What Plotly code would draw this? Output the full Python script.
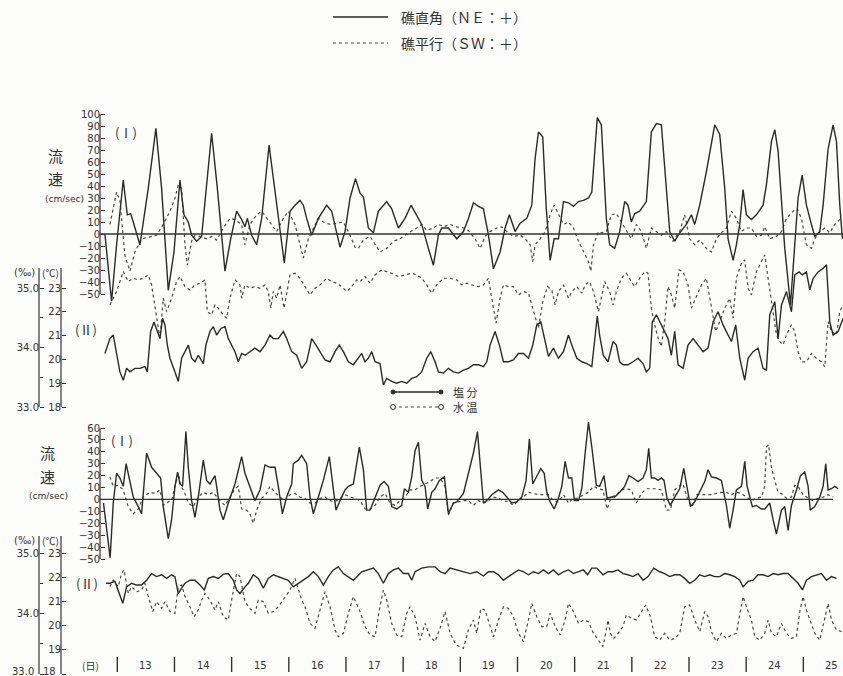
import plotly.graph_objects as go

# ------------------------------------------------------------------
# Time is counted in hours from 00:00 on the 13th.
# Current speeds in cm/sec, salinity in permil, water temperature in degC.
# ------------------------------------------------------------------

# upper station, (I) current perpendicular to the reef (NE:+)
up_perp_h = [-5.2, -2.4, -0.3, 2.5, 4.2, 5.6, 6.7, 9.5, 13.0, 16.2,
             18.6, 21.4, 23.8, 26.3, 28.0, 29.8, 31.2, 33.3, 35.4, 37.5,
             39.6, 42.0, 45.2, 47.6, 50.1, 52.2, 53.6, 54.6, 56.4, 58.5,
             60.6, 63.7, 66.2, 70.1, 72.5, 74.6, 76.7, 78.1, 79.5, 81.6,
             84.4, 87.9, 90.0, 93.5, 95.6, 97.7, 100.0, 101.9, 103.3, 105.4,
             107.5, 109.6, 113.1, 115.2, 118.0, 120.8, 123.3, 125.7, 127.8, 130.6,
             132.7, 134.8, 136.2, 139.0, 140.4, 142.5, 145.3, 147.4, 149.5, 151.6,
             153.7, 155.8, 157.9, 160.7, 162.8, 164.6, 167.0, 169.1, 171.9, 174.0,
             175.4, 176.8, 178.6, 180.0, 181.7, 183.4, 185.2, 187.3, 189.4, 191.5,
             193.6, 195.7, 197.8, 199.2, 201.5, 203.2, 205.3, 206.7, 208.8, 210.9,
             213.0, 214.4, 215.8, 217.2, 219.3, 222.1, 224.2, 226.3, 228.4, 229.8,
             231.9, 234.0, 236.1, 238.9, 241.0, 242.4, 244.5, 247.3, 250.8, 252.9,
             255.0, 256.4, 258.5, 259.9, 261.3, 262.7, 264.1, 266.2, 268.3, 271.1,
             272.5, 274.6, 276.0, 277.4, 278.8, 280.2, 282.6, 284.4, 285.8, 287.5,
             289.3, 291.4, 292.8, 294.9, 296.3, 298.4, 300.5, 301.9, 303.3, 304.4]
up_perp_v = [0, -56, -9, 45, 16, 17, 10, -9, 38, 88,
             38, -47, -15, 45, 16, 10, -1, -6, -2, 38,
             84, 38, -31, -4, 19, 12, 6, 13, -1, -9,
             13, 74, 35, -24, 19, 24, 28, 24, 13, -1,
             13, 24, 19, -11, 2, 30, 46, 34, 31, 5,
             1, 19, 27, 21, 5, 13, 24, 16, 8, -12,
             -26, -1, 5, 5, 1, -4, 2, 13, 26, 23,
             21, -1, -29, -15, 5, 16, 2, 9, 13, 24,
             63, 85, 81, 24, -22, -4, -4, 27, 26, 23,
             27, 28, 30, 35, 97, 91, 13, -9, -12, 2,
             27, 24, 10, 17, 19, 27, 85, 92, 91, 52,
             2, -6, 1, 8, 16, 8, 24, 52, 91, 83,
             38, -4, -22, -9, 8, 37, 16, 12, 16, 24,
             41, 77, 87, 69, 24, -12, -59, -9, 30, 49,
             24, 8, -2, 2, 24, 71, 91, 77, 24, -4]

# upper station, (I) current parallel to the reef (SW:+)
up_para_h = [-3.1, -0.3, 1.1, 3.2, 5.3, 7.4, 10.2, 13.7, 16.5, 19.3,
             22.1, 24.2, 25.6, 27.0, 28.4, 29.4, 31.2, 32.6, 34.7, 37.5,
             39.6, 41.7, 44.5, 47.3, 49.4, 52.2, 53.6, 55.7, 58.5, 60.6,
             62.7, 64.8, 66.9, 69.7, 71.8, 74.6, 76.7, 78.1, 80.2, 82.3,
             84.4, 86.5, 89.3, 92.1, 94.9, 97.7, 99.8, 101.2, 103.3, 106.1,
             110.3, 113.1, 115.9, 118.7, 122.2, 125.7, 127.8, 129.9, 132.7, 134.8,
             136.9, 139.7, 142.5, 145.3, 147.4, 150.2, 152.3, 154.4, 156.5, 159.3,
             161.4, 163.5, 166.3, 169.1, 171.2, 173.3, 174.4, 175.4, 177.5, 179.6,
             181.7, 183.4, 185.2, 187.3, 189.4, 191.5, 193.6, 195.7, 197.8, 198.8,
             199.9, 202.0, 203.2, 205.3, 207.4, 209.5, 211.6, 213.7, 215.8, 217.9,
             220.0, 222.1, 224.2, 226.3, 228.4, 230.5, 233.3, 236.1, 238.2, 240.3,
             242.4, 244.5, 247.3, 249.4, 251.5, 253.6, 255.7, 257.8, 259.9, 262.0,
             264.1, 266.2, 268.3, 270.4, 271.8, 273.9, 276.7, 278.8, 280.9, 283.7,
             285.4, 287.2, 289.3, 291.4, 292.8, 294.9, 297.0, 299.1, 301.2, 303.3,
             304.7]
up_para_v = [8, 35, 28, -18, -31, -15, -4, -2, -1, 8,
             19, 30, 41, 38, -9, -26, -6, -1, -2, -4,
             -2, -5, 5, 13, 12, 8, -9, 8, 16, 19,
             13, 8, 2, 13, 19, 8, -9, -20, -4, 5,
             13, 10, 8, 9, 10, -1, -11, -12, -5, -2,
             -15, -12, -6, -4, 1, 5, 8, 3, 5, 8,
             6, 8, 6, 5, 3, -4, -12, -2, 2, 5,
             6, 2, -2, -1, -4, -9, -23, -9, -4, 2,
             16, 24, 16, 8, 10, 5, -6, -15, -23, -31,
             -9, 2, 1, 2, 16, 17, 10, 2, -4, 8,
             2, -12, 5, 2, -1, 2, -6, 2, 16, -4,
             -9, -5, -12, -15, -4, 1, 5, 19, 13, 2,
             5, 5, -2, -1, 6, -4, -2, 2, 13, 19,
             21, 13, -9, -12, -4, 2, 5, 1, 8, 12,
             12]

# upper station, (II) water temperature
up_temp_h = [-3.1, -0.3, 2.5, 4.6, 6.7, 8.8, 10.9, 13.0, 14.4, 17.9,
             19.3, 20.7, 22.8, 24.9, 26.3, 28.4, 30.5, 32.6, 34.7, 36.8,
             37.8, 39.6, 41.0, 42.4, 44.5, 45.9, 47.3, 49.4, 51.5, 52.2,
             53.6, 55.7, 57.8, 59.9, 62.0, 63.4, 64.4, 65.5, 66.9, 68.3,
             70.0, 71.1, 72.5, 74.6, 76.7, 78.8, 80.9, 83.0, 85.1, 87.9,
             90.0, 92.1, 94.2, 96.3, 98.4, 100.5,
             101.9, 104.0, 106.1, 108.2, 111.0, 113.1, 115.2, 118.0, 120.8, 123.6,
             125.7, 127.8, 129.9, 132.0, 134.1, 136.9, 139.7, 142.5, 144.6, 146.7,
             148.8, 151.6, 153.7, 155.8, 157.2, 159.0, 160.7, 162.1, 164.2, 166.3,
             168.4, 170.5, 172.6, 174.7, 176.8, 178.6, 180.6, 182.4, 183.8, 185.2,
             187.3, 189.4, 190.8, 192.9, 195.0, 196.4, 198.2, 199.9, 202.0,
             204.6, 206.7, 208.1, 209.5, 211.6, 213.7, 215.8, 217.2, 219.3, 221.4,
             222.8, 224.2, 225.6, 227.0, 228.4, 229.8, 231.2, 232.6, 234.0, 235.8,
             237.5, 239.6, 241.0, 243.1, 245.2, 247.3, 249.4, 251.2, 252.9, 255.0,
             257.1, 258.5, 259.9, 262.0, 263.4, 264.8, 266.2, 268.3, 270.4, 271.8,
             273.2, 275.3, 276.7, 278.1, 279.5, 280.9, 283.0, 284.4, 285.8, 287.2,
             289.3, 291.4, 293.5, 295.6, 297.0, 298.4, 299.8, 301.9, 303.3, 304.7]
up_temp_v = [22.29, 22.85, 23.69, 23.27, 23.41, 23.34, 23.41, 23.55, 23.13, 20.89,
             22.57, 22.01, 22.57, 23.27, 23.48, 23.06, 22.92, 23.13, 23.20, 23.34,
             22.01, 21.87, 22.29, 22.15, 21.87, 21.73, 22.57, 23.34, 23.13, 22.57,
             23.13, 22.99, 23.06, 22.99, 23.13, 22.85, 22.15, 22.85, 22.57, 23.13,
             22.15, 22.85, 23.55, 23.62, 23.41, 23.06, 22.71, 22.99, 23.13, 23.41,
             23.27, 23.20, 23.06, 22.85, 23.06, 23.34,
             23.27, 23.48, 23.20, 23.55, 23.76, 23.69, 23.62, 23.48, 23.55, 23.62,
             23.55, 23.41, 23.13, 22.78, 23.13, 23.41, 23.41, 23.34, 23.13, 23.20,
             23.13, 23.06, 23.13, 23.41, 22.57, 21.52, 22.57, 23.13, 23.06, 23.06,
             22.71, 22.85, 22.78, 22.01, 21.31, 22.43, 23.06, 22.92, 22.29, 22.85,
             23.13, 22.57, 22.85, 23.06, 22.78, 23.13, 23.27, 22.85, 22.01,
             23.27, 22.85, 22.29, 22.85, 23.41, 23.62, 23.27, 23.06, 23.41, 23.69,
             23.62, 22.15, 21.45, 20.89, 20.54, 21.59, 23.06, 22.71, 22.15, 23.76,
             23.69, 23.13, 22.15, 22.64, 23.13, 23.41, 22.29, 21.17, 21.59, 22.15,
             22.57, 21.73, 23.41, 24.04, 24.18, 22.99, 22.71, 23.69, 24.11, 24.39,
             23.41, 22.01, 21.03, 20.75, 20.61, 21.03, 21.45, 21.17, 20.32, 19.90,
             19.90, 20.25, 20.04, 19.90, 19.69, 21.59, 21.17, 21.03, 22.01, 22.29]

# upper station, (II) salinity
up_sal_h = [-5.2, -3.1, -1.7, -0.3, 1.1, 2.5, 3.9, 5.3, 7.4, 9.5,
            11.6, 12.6, 14.0, 15.4, 16.8, 17.9, 19.0, 20.0, 21.0, 22.1,
            24.2, 25.6, 27.0, 28.4, 29.8, 31.2, 32.6, 34.0, 36.1, 37.2,
            38.9, 40.3, 41.7, 43.5, 45.2, 46.6, 48.0, 49.4, 50.8, 52.2,
            53.6, 55.7, 57.8, 59.9, 62.0, 64.1, 65.5, 67.6, 69.7, 71.1,
            73.2, 75.3, 77.4, 79.5, 81.6, 83.4, 85.1, 87.2, 89.3, 91.4,
            93.2, 94.9, 97.0, 99.1,
            102.6, 104.0, 105.4, 106.8, 108.2, 110.3, 111.7, 113.1, 115.2, 117.3,
            119.4, 121.5, 123.6, 125.7, 127.8, 129.9, 131.6, 133.4, 134.8, 136.9,
            139.0, 141.1, 143.2, 145.3, 147.4, 149.5, 151.6, 153.7, 155.1, 156.5,
            158.6, 160.4, 162.1, 164.2, 166.3, 168.4, 170.5, 172.6, 174.4, 176.1,
            177.8, 179.6, 181.0, 183.1, 185.2, 187.3, 189.4, 190.8, 192.9, 195.0,
            197.1, 199.2, 200.5, 201.5, 202.5, 204.0,
            206.0, 208.1, 209.5, 210.9, 212.3, 214.4, 216.5, 218.6, 220.7, 222.1,
            223.5, 224.6, 226.3, 228.4, 229.8, 231.2, 232.6, 234.0, 235.4, 237.5,
            239.6, 241.7, 243.8, 245.9, 248.0, 250.1, 252.2, 254.3, 256.4, 257.8,
            259.6, 261.3, 263.4, 264.8, 266.9, 269.0, 271.1, 272.5, 273.9, 276.0,
            277.4, 278.8, 280.9, 283.0, 284.4, 286.2, 287.6, 289.3, 290.7, 292.1,
            294.2, 296.3, 297.7, 299.1, 300.5, 302.6, 304.7]
up_sal_v = [33.90, 34.15, 34.21, 33.87, 33.59, 33.45, 33.65, 33.59, 33.65, 33.65,
            33.68, 33.59, 34.27, 34.43, 34.27, 34.15, 34.49, 34.38, 34.04, 33.82,
            33.59, 33.43, 33.82, 33.93, 34.04, 33.82, 33.76, 33.87, 33.73, 34.04,
            34.27, 34.35, 34.21, 34.32, 34.35, 34.15, 34.04, 33.93, 33.76, 33.90,
            33.87, 33.93, 33.99, 33.93, 34.04, 34.21, 34.15, 34.15, 34.27, 34.15,
            33.93, 33.87, 33.65, 33.76, 34.15, 34.04, 33.93, 33.79, 33.76, 33.93,
            34.04, 33.93, 33.76, 33.71,
            33.90, 33.76, 33.82, 33.93, 33.76, 33.73, 33.37, 33.48, 33.43, 33.40,
            33.43, 33.40, 33.48, 33.51, 33.59, 33.82, 33.93, 33.76, 33.59, 33.57,
            33.65, 33.59, 33.57, 33.62, 33.65, 33.71, 33.71, 33.68, 33.76, 34.04,
            34.27, 34.04, 33.76, 33.76, 33.79, 33.90, 33.90, 33.82, 34.04, 34.38,
            34.43, 34.10, 33.85, 33.99, 33.82, 33.93, 34.21, 34.04, 33.82, 33.76,
            33.73, 33.68, 34.20, 34.53, 34.20, 33.87,
            33.76, 34.10, 34.04, 33.76, 33.71, 33.71, 33.76, 33.82, 33.73, 33.59,
            33.65, 34.43, 34.55, 34.38, 34.27, 34.15, 33.87, 34.27, 33.71, 33.65,
            34.04, 34.15, 34.04, 33.93, 33.99, 34.43, 34.60, 34.38, 34.21, 34.10,
            34.38, 33.82, 33.45, 33.82, 33.93, 33.99, 33.65, 33.62, 34.55, 34.77,
            34.15, 34.71, 34.94, 34.60, 35.22, 35.27, 35.22, 35.27, 34.97, 35.16,
            35.27, 35.33, 35.39, 34.43, 34.21, 34.27, 34.49]

# lower station, (I) current perpendicular to the reef
lo_perp_h = [-5.8, -3.0, -1.7, -0.3, 1.1, 2.5, 3.7, 4.6, 6.7, 8.8,
             10.2, 12.3, 14.4, 16.5, 18.2, 19.3, 21.4, 22.8, 24.2, 25.3,
             26.3, 27.4, 28.8, 29.8, 31.2, 32.6, 34.0, 36.1, 37.5, 38.9,
             41.0, 41.7, 43.1, 44.5, 46.6, 49.4, 52.2, 53.6, 55.7, 57.8,
             59.9, 62.0, 64.1, 66.2, 67.6, 69.3, 71.1, 73.2, 73.9, 76.0,
             77.4, 79.5, 80.9, 82.3, 84.4, 86.5, 89.0, 90.7, 91.8, 93.5,
             95.6, 97.0, 99.1, 100.5, 101.6,
             103.3, 104.7, 106.1, 108.2, 110.3, 112.0, 113.8, 115.2, 117.3, 119.4,
             120.5, 122.2, 123.6, 125.0, 126.4, 127.8, 129.2, 130.3, 132.0, 133.4,
             135.2, 137.3, 139.0, 141.1, 142.5, 145.3, 147.4, 149.5, 151.2, 152.3,
             153.7, 155.1, 157.2, 160.0, 161.8, 163.5, 165.6, 167.7, 169.8, 171.6,
             173.0, 174.4, 176.1, 177.8, 179.2, 180.3, 181.7, 183.4, 185.2, 186.6,
             188.0, 189.4, 190.8, 191.9, 193.6, 195.0, 196.4, 197.8, 199.2,
             201.1, 202.5, 204.3, 205.6, 207.4, 208.8, 210.9, 213.0, 214.8, 216.5,
             218.6, 220.7, 222.1, 223.1, 224.2, 225.6, 227.0, 228.4, 229.5, 230.8,
             232.2, 234.0, 236.1, 237.8, 239.2, 240.6, 242.4, 244.5, 246.6, 248.0,
             249.4, 251.5, 253.6, 255.7, 257.1, 258.5, 259.9, 262.0, 263.4, 264.4,
             266.6, 268.3, 270.4, 271.8, 273.9, 275.3, 276.7, 278.8, 280.2, 281.6,
             283.0, 285.1, 286.8, 288.6, 290.0, 290.9, 292.8, 294.9, 296.3, 297.4,
             298.4, 299.8, 301.2, 302.6]
lo_perp_v = [-3, -49, -3, 22, 18, 11, 30, 22, 2, -6,
             -12, 39, 27, 22, 18, -6, -33, -17, 11, 23,
             13, 11, 57, 27, -1, -15, 2, 33, 16, 13,
             20, 11, -9, -17, -3, 13, 36, 22, 11, -1,
             8, 29, 27, 27, 11, -12, 2, 13, 30, 33,
             37, 30, 2, -12, 2, 16, 36, 11, -9, -1,
             8, 11, 13, 30, 44,
             25, -9, -9, 2, 12, 15, 11, -6, -8, -5,
             9, 6, 19, 41, 48, 16, 11, -8, 6, 9,
             16, 19, -12, -3, -2, 5, 22, 39, 57, 30,
             -3, -1, 4, 8, 6, 2, -3, -2, 2, 16,
             51, 13, 19, 26, 22, 6, -2, -8, 1, 11,
             32, 18, 18, -1, -1, 9, 39, 65, 44,
             12, 11, 20, 1, 2, 2, 6, 11, 20, 18,
             15, 18, 25, 43, 18, 18, 16, 18, 16, 1,
             -5, 2, 9, 26, 11, -6, -2, 6, 15, 25,
             19, 18, 16, -5, -24, -9, 8, 11, 32, 11,
             -6, -5, -8, -8, -3, -17, -29, -9, -6, -26,
             -5, 8, 20, 23, 11, -9, -6, 2, 11, 30,
             8, 9, 11, 9]

# lower station, (I) current parallel to the reef
lo_para_h = [-3.1, -1.7, 0.4, 2.5, 4.6, 6.7, 8.8, 10.9, 13.7, 15.8,
             17.9, 19.3, 21.4, 22.8, 24.2, 25.6, 26.6, 28.4, 29.8, 31.9,
             34.0, 36.1, 38.2, 40.3, 43.1, 45.2, 47.3, 49.4, 50.8, 52.2,
             54.3, 55.7, 57.1, 58.5, 60.6, 62.7, 64.1, 66.2, 68.3, 70.4,
             72.5, 74.6, 76.7, 78.8, 80.9, 83.0, 85.1, 87.2, 89.3, 91.4,
             93.5, 95.6, 97.7, 99.8,
             101.9, 104.0, 106.1, 108.2, 110.3, 112.4, 114.5, 116.6, 118.7, 120.8,
             122.9, 125.0, 127.1, 129.2, 131.3, 133.4, 135.5, 137.6, 139.0, 141.1,
             143.2, 145.3, 147.4, 149.5, 151.6, 153.7, 155.8, 157.9, 160.0, 162.1,
             164.2, 166.3, 168.4, 170.5, 172.6, 174.7, 176.8, 178.9, 181.0, 183.1,
             185.2, 187.3, 189.4, 191.5, 193.6, 195.7, 197.8, 199.9, 202.0,
             203.9, 205.6, 207.4, 209.5, 211.6, 213.7, 215.8, 217.9, 220.0, 222.1,
             224.2, 226.3, 228.4, 230.5, 232.2, 234.0, 235.8, 237.5, 239.6, 241.4,
             243.1, 245.2, 247.3, 249.4, 251.5, 253.6, 255.7, 257.8, 259.9, 262.0,
             264.1, 266.2, 268.3, 270.4, 271.8, 272.5, 273.4, 274.6, 276.0, 277.4,
             278.8, 280.9, 283.0, 284.4, 285.8, 287.9, 290.0, 292.1, 294.2, 296.3,
             298.4, 300.5]
lo_para_v = [19, 11, 12, 8, -6, -12, -8, 2, 6, 5,
             8, -5, -2, -1, 11, 22, 12, 5, -3, -6,
             2, 6, 4, 6, -1, -5, 2, 9, 11, -8,
             -9, -12, -20, -9, 1, 5, 11, 6, 2, -1,
             4, 5, 2, 1, -3, -3, 1, 2, -1, -2,
             1, 4, 2, 1,
             -1, -8, -8, -5, 2, 5, -3, -5, -1, 2,
             8, 8, 11, 13, 15, 18, 18, 11, -13, -3,
             -2, -1, -1, -5, -1, -3, -1, 2, 1, -1,
             -2, -5, -1, 2, 6, 5, 4, 4, 4, -1,
             -2, 4, -3, 1, 1, 4, 6, 11, 9,
             8, -8, 2, 4, 8, 9, 8, -3, 5, 9,
             9, 9, 8, -9, -9, 8, 11, 13, -1, -6,
             4, 4, 4, 4, 5, 6, 6, 4, 6, 5,
             2, -1, 1, 2, 11, 44, 46, 27, 16, 6,
             5, 1, 2, 12, 11, 4, 1, -1, 1, 2,
             4, 2]

# lower station, (II) salinity
lo_sal_h = [-4.7, -3.1, -1.0, 0.4, 2.3, 3.9, 6.0, 8.1, 10.2, 12.3,
            14.4, 16.5, 18.6, 20.7, 22.8, 24.2, 25.6, 27.0, 28.4, 30.5,
            32.6, 34.7, 36.5, 38.2, 40.3, 42.4, 44.5, 46.6, 48.7, 50.1,
            51.5, 53.6, 55.0, 57.1, 59.2, 61.3, 63.4, 65.5, 67.6, 69.7,
            71.8, 73.9, 76.0, 78.1, 80.2, 82.3, 84.4, 86.5, 88.6, 90.7,
            92.8, 94.9, 97.0, 99.1,
            102.6, 105.4, 107.5, 109.6, 111.7, 113.8, 115.9, 118.0, 120.1, 122.2,
            123.6, 125.0, 127.8, 130.6, 133.4, 135.5, 137.6, 139.7, 142.5, 145.3,
            148.1, 150.9, 153.7, 155.8, 157.9, 160.0, 162.1, 164.2, 166.3, 168.4,
            170.5, 172.6, 174.7, 176.8, 178.9, 181.0, 183.1, 185.2, 187.3, 189.4,
            191.5, 193.6, 195.7, 197.4, 199.2, 201.3,
            203.9, 206.0, 208.1, 210.2, 212.3, 214.4, 216.5, 218.6, 220.7, 222.8,
            225.2, 227.7, 229.8, 231.9, 234.0, 236.1, 238.2, 240.3, 242.4, 244.5,
            246.6, 248.7, 250.8, 252.9, 255.0, 257.1, 259.2, 261.3, 262.7, 264.8,
            266.9, 269.0, 271.1, 273.2, 275.3, 277.4, 279.5, 281.6, 283.7, 285.8,
            287.6, 289.3, 291.4, 293.5, 295.6, 297.7, 299.8, 301.9]
lo_sal_v = [34.50, 34.50, 34.53, 34.39, 34.17, 34.44, 34.50, 34.47, 34.47, 34.55,
            34.66, 34.61, 34.64, 34.58, 34.64, 34.61, 34.33, 34.42, 34.50, 34.55,
            34.55, 34.47, 34.39, 34.58, 34.61, 34.58, 34.65, 34.66, 34.55, 34.39,
            34.33, 34.44, 34.50, 34.64, 34.58, 34.42, 34.58, 34.64, 34.61, 34.58,
            34.55, 34.44, 34.50, 34.55, 34.61, 34.69, 34.61, 34.47, 34.61, 34.72,
            34.77, 34.66, 34.61, 34.55,
            34.69, 34.72, 34.75, 34.66, 34.50, 34.66, 34.72, 34.75, 34.66, 34.66,
            34.55, 34.69, 34.75, 34.77, 34.77, 34.69, 34.66, 34.75, 34.72, 34.69,
            34.66, 34.69, 34.62, 34.69, 34.69, 34.64, 34.55, 34.61, 34.66, 34.72,
            34.69, 34.64, 34.69, 34.66, 34.72, 34.66, 34.72, 34.64, 34.69, 34.72,
            34.66, 34.69, 34.72, 34.64, 34.75, 34.75,
            34.64, 34.69, 34.69, 34.72, 34.66, 34.64, 34.61, 34.66, 34.55, 34.61,
            34.75, 34.69, 34.66, 34.61, 34.64, 34.64, 34.58, 34.50, 34.55, 34.64,
            34.61, 34.64, 34.61, 34.61, 34.66, 34.64, 34.61, 34.55, 34.44, 34.53,
            34.55, 34.64, 34.64, 34.61, 34.66, 34.64, 34.66, 34.66, 34.58, 34.50,
            34.39, 34.55, 34.61, 34.64, 34.66, 34.55, 34.61, 34.58]

# lower station, (II) water temperature
lo_temp_h = [-3.1, -1.7, 0.4, 1.8, 2.8, 4.6, 6.0, 8.1, 10.2, 11.6,
             13.0, 14.9, 16.5, 18.6, 20.0, 22.1, 24.2, 25.6, 27.0, 28.4,
             30.5, 32.2, 34.0, 35.4, 36.8, 38.9, 41.0, 42.4, 44.5, 46.6,
             48.0, 50.1, 51.5, 53.6, 55.7, 57.8, 59.2, 61.3, 63.4, 65.5,
             67.6, 69.7, 72.5, 74.6, 76.0, 77.4, 78.8, 80.9, 83.0, 85.1,
             87.2, 89.3, 91.4, 92.8, 94.9, 97.0, 99.1,
             101.9, 104.0, 106.1, 108.2, 110.0, 111.7, 113.1, 115.2, 117.3, 119.4,
             121.5, 122.9, 125.0, 127.1, 129.2, 131.3, 133.4, 135.5, 137.6, 139.7,
             142.2, 143.9, 145.3, 147.4, 149.5, 150.9, 152.6, 154.4, 156.2, 157.9,
             160.0, 162.1, 164.2, 166.3, 168.4, 170.5, 172.6, 174.0, 176.1, 178.2,
             180.3, 181.7, 183.8, 185.9, 188.0, 189.4, 191.5, 193.6, 195.7, 197.8,
             199.9, 202.0,
             203.9, 205.0, 206.0, 207.0, 208.4, 210.2, 212.3, 213.7, 215.8, 217.9,
             220.0, 221.8, 223.8, 225.6, 227.7, 229.8, 231.9, 234.0, 236.1, 238.2,
             240.3, 242.4, 244.5, 246.6, 248.0, 249.4, 251.5, 253.6, 255.7, 257.8,
             259.9, 261.3, 262.7, 264.1, 266.2, 267.6, 269.7, 271.8, 273.2, 274.6,
             276.7, 278.8, 280.9, 283.0, 285.1, 286.5, 287.9, 289.3, 290.7, 292.8,
             294.9, 297.0, 298.4, 299.8, 301.9, 304.0]
lo_temp_v = [21.61, 21.88, 21.61, 22.16, 22.30, 21.33, 21.61, 21.40, 21.47, 21.75,
             21.20, 20.58, 20.99, 20.71, 20.99, 20.58, 20.51, 21.61, 21.68, 21.20,
             20.78, 20.37, 20.64, 21.06, 21.33, 21.06, 20.64, 20.99, 20.37, 20.23,
             21.06, 22.16, 22.02, 20.99, 20.71, 20.51, 21.06, 20.99, 20.51, 20.58,
             20.78, 21.06, 21.47, 21.95, 21.47, 21.06, 20.78, 20.09, 19.89, 20.64,
             21.40, 20.78, 19.82, 19.54, 19.68, 20.51, 21.20,
             20.58, 19.96, 19.61, 19.54, 20.64, 21.47, 21.06, 20.09, 19.61, 19.54,
             20.51, 20.78, 20.37, 19.40, 20.09, 19.54, 19.34, 19.89, 20.58, 19.68,
             19.20, 19.13, 19.06, 19.82, 20.23, 19.68, 20.71, 20.64, 20.09, 19.54,
             20.23, 20.78, 20.71, 20.37, 19.68, 19.34, 20.23, 20.92, 20.37, 19.96,
             19.96, 20.51, 19.96, 19.61, 20.23, 20.92, 20.58, 20.09, 20.23, 20.16,
             19.68, 19.40,
             19.13, 19.68, 20.23, 19.68, 19.47, 19.68, 19.96, 20.44, 20.30, 20.23,
             20.58, 20.85, 20.37, 19.54, 19.40, 19.68, 19.40, 19.47, 19.68, 20.78,
             20.85, 20.23, 19.75, 20.58, 20.37, 19.75, 19.34, 19.68, 19.47, 19.61,
             19.68, 20.37, 21.20, 20.78, 20.23, 19.54, 19.40, 19.68, 20.23, 19.68,
             19.54, 20.09, 19.68, 19.47, 19.54, 20.58, 21.20, 20.64, 20.23, 19.68,
             19.40, 20.37, 20.92, 20.23, 19.82, 19.75]

# calendar days along the bottom
days = list(range(13, 26))

# axis tick values
cur_up_ticks = list(range(-50, 101, 10))
cur_lo_ticks = list(range(-50, 61, 10))
temp_ticks = [18, 19, 20, 21, 22, 23]
sal_ticks = [33.0, 34.0, 35.0]
sal_minor = [33.5, 34.5]

# ------------------------------------------------------------------
# page geometry
# ------------------------------------------------------------------
W, H = 843, 676
DAY0_PX, DAY_PX = 117.3, 57.17        # left edge of day 13 and width of one day
PLOT_LEFT = 100
X_CUR, X_TMP, X_SAL = 100, 61, 39     # vertical axis positions

def xp(px):
    return px / W

def yp(py):
    return 1 - py / H

def px_to_hour(px):
    return (px - DAY0_PX) / DAY_PX * 24

def full_range(cal):
    va, pa, vb, pb = cal
    k = (va - vb) / (pb - pa)
    return [va - (H - pa) * k, va + pa * k]

def val_at(cal, py):
    va, pa, vb, pb = cal
    k = (va - vb) / (pb - pa)
    return va + (pa - py) * k

# (value, pixel row) calibration pairs for each vertical scale
UP_CUR = (100, 114, -50, 294)
UP_TMP = (23, 288, 18, 407)
UP_SAL = (35, 288, 33, 407)
LO_CUR = (60, 428, -50, 559)
LO_TMP = (23, 553, 18, 674)
LO_SAL = (35, 553, 33, 674)

INK = "#2a2a2a"
INK_DOT = "#474747"
BG = "#fcfcfb"
NUM_FONT = dict(family="DejaVu Sans", size=10, color="#333333")
JP = "Noto Sans CJK JP"

fig = go.Figure()

def line(xs, ys, axis, dotted=False):
    fig.add_trace(go.Scatter(
        x=xs, y=ys, yaxis=axis, mode="lines",
        line=dict(color=INK_DOT if dotted else INK,
                  width=1.2 if dotted else 1.4,
                  dash="dot" if dotted else "solid"),
        hoverinfo="skip", showlegend=False))

line(up_para_h, up_para_v, "y", dotted=True)
line(up_perp_h, up_perp_v, "y")
line(up_temp_h, up_temp_v, "y2", dotted=True)
line(up_sal_h, up_sal_v, "y3")
line(lo_para_h, lo_para_v, "y4", dotted=True)
line(lo_perp_h, lo_perp_v, "y4")
line(lo_temp_h, lo_temp_v, "y5", dotted=True)
line(lo_sal_h, lo_sal_v, "y6")

def yax(cal, pos, tickvals, ticktext=None, minor=None, overlay=True):
    d = dict(domain=[0, 1], range=full_range(cal), anchor="free",
             position=xp(pos), side="left", showgrid=False, zeroline=False,
             showline=False, ticks="inside", ticklen=4, tickwidth=1,
             tickcolor="#333333", tickmode="array", tickvals=tickvals,
             tickfont=NUM_FONT, fixedrange=True)
    if ticktext is not None:
        d["ticktext"] = ticktext
    if minor is not None:
        d["minor"] = dict(tickvals=minor, ticks="inside", ticklen=3,
                          tickcolor="#333333")
    if overlay:
        d["overlaying"] = "y"
    return d

sal_text = [f"{v:.1f}" for v in sal_ticks]

fig.update_layout(
    width=W, height=H,
    margin=dict(l=0, r=0, t=0, b=0),
    paper_bgcolor=BG, plot_bgcolor="rgba(0,0,0,0)",
    showlegend=False,
    xaxis=dict(domain=[xp(PLOT_LEFT), 1],
               range=[px_to_hour(PLOT_LEFT), px_to_hour(W)],
               visible=False, fixedrange=True),
    yaxis=yax(UP_CUR, X_CUR, cur_up_ticks, overlay=False),
    yaxis2=yax(UP_TMP, X_TMP, temp_ticks),
    yaxis3=yax(UP_SAL, X_SAL, sal_ticks, sal_text, sal_minor),
    yaxis4=yax(LO_CUR, X_CUR, cur_lo_ticks),
    yaxis5=yax(LO_TMP, X_TMP, temp_ticks),
    yaxis6=yax(LO_SAL, X_SAL, sal_ticks, sal_text, sal_minor),
)

shapes = []

def spine(axis, cal, px, py_top, py_bot):
    shapes.append(dict(type="line", xref="paper", yref=axis,
                       x0=xp(px), x1=xp(px),
                       y0=val_at(cal, py_bot), y1=val_at(cal, py_top),
                       line=dict(color="#333333", width=1.2)))

# vertical scale lines
spine("y", UP_CUR, X_CUR, 114, 294)
spine("y2", UP_TMP, X_TMP, 268, 407)
spine("y3", UP_SAL, X_SAL, 268, 407)
spine("y4", LO_CUR, X_CUR, 428, 559)
spine("y5", LO_TMP, X_TMP, 536, 674)
spine("y6", LO_SAL, X_SAL, 536, 674)

# zero-velocity reference lines
shapes.append(dict(type="line", xref="paper", yref="y", x0=xp(X_CUR), x1=1,
                   y0=0, y1=0, line=dict(color="#333333", width=1.3)))
shapes.append(dict(type="line", xref="paper", yref="y4", x0=xp(X_CUR),
                   x1=xp(833), y0=0, y1=0,
                   line=dict(color="#333333", width=1.3)))

# day separators on the time scale
for i in range(len(days)):
    shapes.append(dict(type="line", xref="x", yref="paper",
                       x0=24 * i, x1=24 * i, y0=yp(672), y1=yp(657),
                       line=dict(color="#333333", width=1.4)))

# legend keys
shapes.append(dict(type="line", xref="paper", yref="paper",
                   x0=xp(333), x1=xp(388), y0=yp(17), y1=yp(17),
                   line=dict(color=INK, width=1.3)))
shapes.append(dict(type="line", xref="paper", yref="paper",
                   x0=xp(333), x1=xp(388), y0=yp(43), y1=yp(43),
                   line=dict(color=INK_DOT, width=1.2, dash="dot")))
shapes.append(dict(type="line", xref="paper", yref="paper",
                   x0=xp(393), x1=xp(441), y0=yp(392), y1=yp(392),
                   line=dict(color=INK, width=1.3)))
shapes.append(dict(type="line", xref="paper", yref="paper",
                   x0=xp(393), x1=xp(441), y0=yp(407), y1=yp(407),
                   line=dict(color=INK_DOT, width=1.1, dash="dot")))
for cx in (393, 441):
    shapes.append(dict(type="circle", xref="paper", yref="paper",
                       x0=xp(cx - 2), x1=xp(cx + 2), y0=yp(394), y1=yp(390),
                       fillcolor=INK, line=dict(color=INK, width=1)))
    shapes.append(dict(type="circle", xref="paper", yref="paper",
                       x0=xp(cx - 2.5), x1=xp(cx + 2.5), y0=yp(409.5),
                       y1=yp(404.5), fillcolor=BG,
                       line=dict(color=INK, width=1)))

fig.update_layout(shapes=shapes)

annotations = []

def text(px, py, s, size=11, family="DejaVu Sans", anchor="center"):
    annotations.append(dict(xref="paper", yref="paper", x=xp(px), y=yp(py),
                            text=s, showarrow=False, xanchor=anchor,
                            yanchor="middle",
                            font=dict(family=family, size=size,
                                      color="#333333")))

# legend captions
text(399, 17, "礁直角（ＮＥ：＋）", size=14, family=JP, anchor="left")
text(399, 43, "礁平行（ＳＷ：＋）", size=14, family=JP, anchor="left")
text(451, 392, "塩 分", size=11, family=JP, anchor="left")
text(451, 407, "水 温", size=11, family=JP, anchor="left")

# panel labels
text(126, 133, "(Ⅰ)", size=13, family=JP)
text(86, 329, "(Ⅱ)", size=13, family=JP)
text(122, 440, "(Ⅰ)", size=13, family=JP)
text(87, 583, "(Ⅱ)", size=13, family=JP)

# vertical scale titles
text(56, 155, "流", size=15, family=JP)
text(56, 179, "速", size=15, family=JP)
text(64, 199, "(cm/sec)", size=9)
text(47, 452, "流", size=15, family=JP)
text(47, 476, "速", size=15, family=JP)
text(48, 496, "(cm/sec)", size=9)
for top in (272, 540):
    text(24, top, "(‰)", size=10)
    text(50, top, "(℃)", size=10, family=JP)

# lowest scale labels of the lower station sit on the page edge
annotations.append(dict(xref="paper", yref="paper", x=xp(X_SAL - 3), y=0,
                        text=sal_text[0], showarrow=False, xanchor="right",
                        yanchor="bottom", yshift=-3, font=NUM_FONT))
annotations.append(dict(xref="paper", yref="paper", x=xp(X_TMP - 3), y=0,
                        text=str(temp_ticks[0]), showarrow=False,
                        xanchor="right", yanchor="bottom", yshift=-3,
                        font=NUM_FONT))

# day numbers
text(90, 665, "(日)", size=10, family=JP)
for i, d in enumerate(days):
    annotations.append(dict(xref="x", yref="paper", x=24 * i + 12, y=yp(665),
                            text=str(d), showarrow=False, xanchor="center",
                            yanchor="middle", font=NUM_FONT))

fig.update_layout(annotations=annotations)

fig.write_html("out.html")
